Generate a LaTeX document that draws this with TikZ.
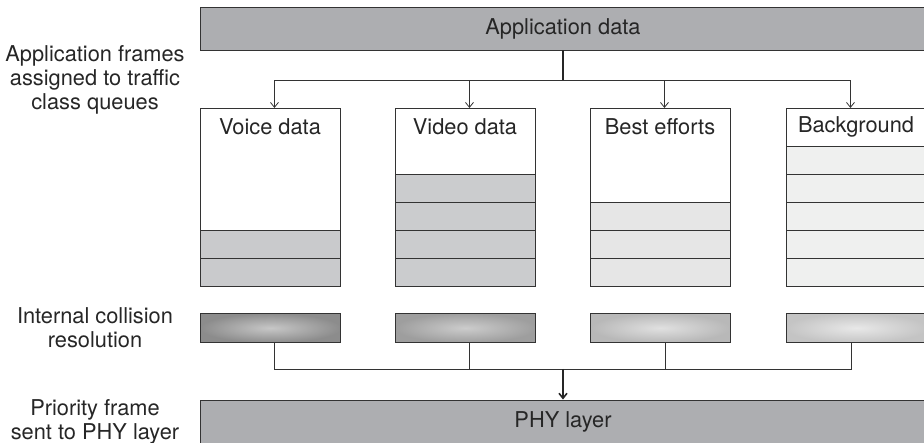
\documentclass[tikz,border=0pt]{standalone}
\usepackage{fontspec}
\setmainfont{TeX Gyre Heros}
\usepackage{xcolor}
\usetikzlibrary{arrows.meta}
\definecolor{barfill}{HTML}{ADAEB1}
\definecolor{edgeline}{HTML}{333333}
\definecolor{voiceslot}{HTML}{C9CACC}
\definecolor{videoslot}{HTML}{CBCCCE}
\definecolor{bestslot}{HTML}{E6E6E6}
\definecolor{bgslot}{HTML}{EFF0EF}
\begin{document}
\begin{tikzpicture}[x=1pt,y=-1pt,
  every node/.style={font=\fontsize{21.8}{24}\selectfont,text=black!85},
  bar/.style={draw=edgeline,line width=0.9pt,fill=barfill,minimum width=726pt,minimum height=43pt,inner sep=0pt},
  queue/.style={draw=edgeline,line width=0.9pt,fill=white,minimum width=140pt,minimum height=178pt,inner sep=0pt,anchor=north west},
  slot/.style={draw=edgeline,line width=0.9pt},
  coll/.style={draw=edgeline,line width=0.9pt,minimum width=140pt,minimum height=29pt,inner sep=0pt,anchor=north west},
  side/.style={align=center},
  wire/.style={draw=edgeline,line width=0.8pt},
  trunk/.style={draw=black!85,line width=1.6pt},
  tip/.style={-{Straight Barb[length=5pt,width=8pt]}}]
\useasboundingbox (0,0) rectangle (924,443);
\node[bar] (appdata) at (563,28.5) {Application data};
\node[bar,minimum height=46pt] (phy) at (563,423) {};
\node at (563,422) (phylbl) {PHY layer};
\node[side] (lblqueue) at (95,80) {Application frames\\assigned to traffic\\class queues};
\node[side] (lblcoll) at (95,328) {Internal collision\\resolution};
\node[side] (lblphy) at (95,422) {Priority frame\\sent to PHY layer};
\node[queue] (voice) at (200,108) {};
\node[queue] (video) at (395,108) {};
\node[queue] (best) at (590,108) {};
\node[queue] (bg) at (786,108) {};
\foreach \q/\n/\c in {voice/2/voiceslot,video/4/videoslot,best/3/bestslot,bg/5/bgslot}
  \foreach \k in {1,...,\n}
    \draw[slot,fill=\c] ([yshift=\k*28pt-28pt]\q.south west) rectangle ([yshift=\k*28pt]\q.south east);
\node (voicelbl) at (270,127) {Voice data};
\node (videolbl) at (465,127) {Video data};
\node (bestlbl) at (660,127) {Best efforts};
\node (bglbl) at (856,127) {Background};
\node[coll,outer color=black!45,inner color=black!22] (voicecr) at (200,313) {};
\node[coll,outer color=black!38,inner color=black!20] (videocr) at (395,313) {};
\node[coll,outer color=black!28,inner color=black!12] (bestcr) at (590,313) {};
\node[coll,outer color=black!23,inner color=black!9] (bgcr) at (786,313) {};
\coordinate (split) at (563,80);
\coordinate (merge) at (563,369);
\draw[trunk] (appdata.south) -- (split);
\draw[wire,tip] (split) -| ([xshift=4pt]voice.north);
\draw[wire,tip] (split) -| ([xshift=4pt]video.north);
\draw[wire,tip] (split) -| ([xshift=4pt]best.north);
\draw[wire,tip] (split) -| ([xshift=-6pt]bg.north);
\draw[wire] ([xshift=4pt]voicecr.south) |- (merge);
\draw[wire] ([xshift=4pt]videocr.south) |- (merge);
\draw[wire] ([xshift=5pt]bestcr.south) |- (merge);
\draw[wire] ([xshift=-5pt]bgcr.south) |- (merge);
\draw[trunk,tip] (merge) -- (phy.north);
\end{tikzpicture}
\end{document}
